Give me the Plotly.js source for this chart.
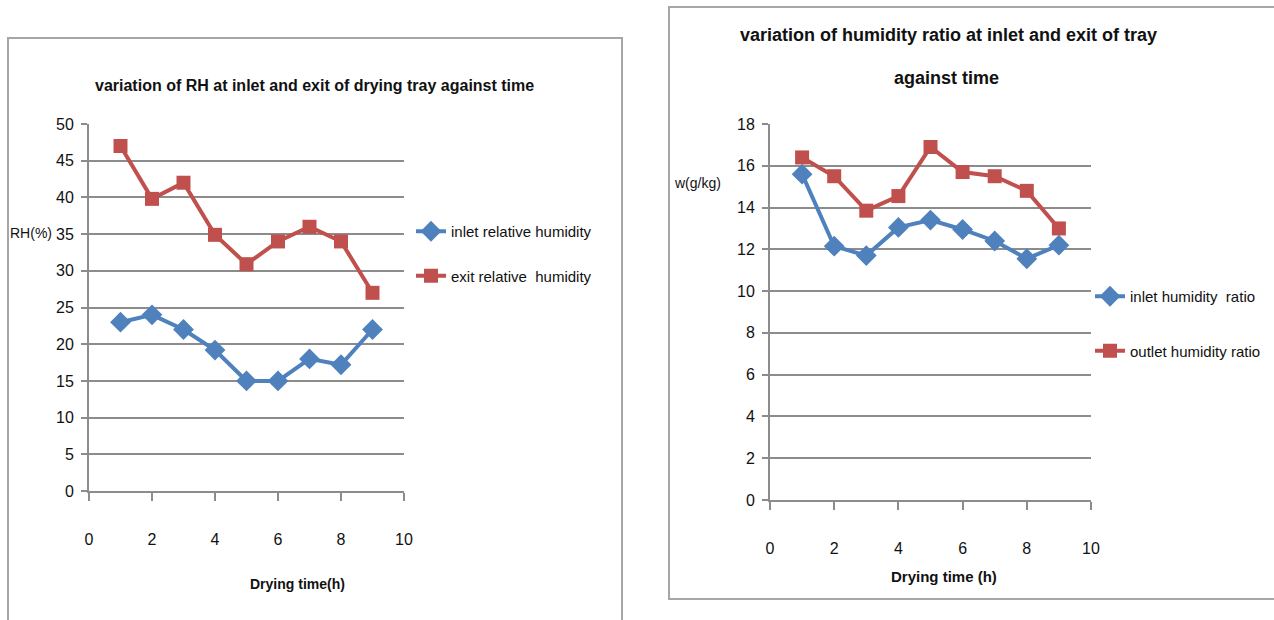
<!DOCTYPE html>
<html>
<head>
<meta charset="utf-8">
<script src="https://cdn.plot.ly/plotly-3.0.1.min.js"></script>
<style>
  html, body { margin: 0; padding: 0; background: #ffffff; overflow: hidden; }
  #chart { width: 1274px; height: 620px; }
</style>
</head>
<body>
<div id="chart"></div>
<script>
// Drying time (h)
const hours = [1, 2, 3, 4, 5, 6, 7, 8, 9];

// Relative humidity (%) at the inlet and exit of the drying tray
const inletRH = [23, 24, 22, 19.2, 15, 15, 18, 17.2, 22];
const exitRH  = [47, 39.8, 42, 34.9, 30.9, 34, 36, 34, 27];

// Humidity ratio w (g/kg) at the inlet and outlet of the tray
const inletW  = [15.6, 12.15, 11.7, 13.05, 13.4, 12.95, 12.4, 11.55, 12.2];
const outletW = [16.4, 15.5, 13.85, 14.55, 16.9, 15.7, 15.5, 14.8, 13.0];

// Tick values
const xTicks  = [0, 2, 4, 6, 8, 10];
const rhTicks = [0, 5, 10, 15, 20, 25, 30, 35, 40, 45, 50];
const wTicks  = [0, 2, 4, 6, 8, 10, 12, 14, 16, 18];

const W = 1274, H = 620;
const px = v => v / W;          // pixel x -> paper x
const py = v => (H - v) / H;    // pixel y -> paper y

const BLUE = '#4F81BD';
const RED = '#C0504D';
const GRID = '#8c8c8c';
const FONT = 'Liberation Sans, Arial, sans-serif';

function lineTrace(x, y, name, color, symbol, size, xa, ya, legend) {
  return {
    x: x, y: y, name: name, type: 'scatter', mode: 'lines+markers',
    xaxis: xa, yaxis: ya, legend: legend, legendgroup: name,
    line: { color: color, width: 4 },
    marker: { color: color, symbol: symbol, size: size }
  };
}

const traces = [
  lineTrace(hours, inletRH, 'inlet relative humidity', BLUE, 'diamond', 16, 'x', 'y', 'legend'),
  lineTrace(hours, exitRH, 'exit relative  humidity', RED, 'square', 14, 'x', 'y', 'legend'),
  lineTrace(hours, inletW, 'inlet humidity  ratio', BLUE, 'diamond', 16, 'x2', 'y2', 'legend2'),
  lineTrace(hours, outletW, 'outlet humidity ratio', RED, 'square', 14, 'x2', 'y2', 'legend2')
];

function xAxis(domain, anchor) {
  return {
    domain: domain, anchor: anchor, range: [0, 10],
    tickvals: xTicks, ticks: 'outside', ticklen: 8, tickwidth: 2, tickcolor: GRID,
    showline: true, linecolor: GRID, linewidth: 2,
    showgrid: false, zeroline: false,
    ticklabelstandoff: 25,
    tickfont: { family: FONT, size: 16, color: '#111111' },
    fixedrange: true
  };
}

function yAxis(domain, anchor, range, ticks) {
  return {
    domain: domain, anchor: anchor, range: range,
    tickvals: ticks, ticks: 'outside', ticklen: 6, tickwidth: 2, tickcolor: GRID,
    showline: true, linecolor: GRID, linewidth: 2,
    showgrid: true, gridcolor: GRID, gridwidth: 2, zeroline: false,
    ticklabelstandoff: 4,
    tickfont: { family: FONT, size: 16, color: '#111111' },
    fixedrange: true
  };
}

function label(text, x, y, size, bold) {
  return {
    xref: 'paper', yref: 'paper', x: px(x), y: py(y),
    xanchor: 'center', yanchor: 'middle', showarrow: false,
    text: bold ? '<b>' + text + '</b>' : text,
    font: { family: FONT, size: size, color: '#111111' }
  };
}

function frame(x0, y0, x1, y1) {
  return {
    type: 'rect', xref: 'paper', yref: 'paper', layer: 'below',
    x0: px(x0), x1: px(x1), y0: py(y1), y1: py(y0),
    line: { color: '#a6a6a6', width: 2 }, fillcolor: 'rgba(0,0,0,0)'
  };
}

function legendBox(x, y, gap) {
  return {
    x: px(x), y: py(y), xanchor: 'left', yanchor: 'top',
    xref: 'container', yref: 'container',
    bgcolor: 'rgba(0,0,0,0)', borderwidth: 0,
    traceorder: 'grouped', tracegroupgap: gap,
    font: { family: FONT, size: 15, color: '#111111' },
    itemclick: false, itemdoubleclick: false
  };
}

const layout = {
  width: W, height: H,
  margin: { l: 0, r: 0, t: 0, b: 0, autoexpand: false },
  paper_bgcolor: '#ffffff', plot_bgcolor: 'rgba(0,0,0,0)',
  showlegend: true,
  xaxis: xAxis([px(89), px(404)], 'y'),
  yaxis: yAxis([py(491), py(124)], 'x', [0, 50], rhTicks),
  xaxis2: xAxis([px(770), px(1091)], 'y2'),
  yaxis2: yAxis([py(500), py(124)], 'x2', [0, 18], wTicks),
  legend: legendBox(411, 215, 22),
  legend2: legendBox(1090, 280, 32),
  shapes: [
    frame(8, 38, 622, 640),
    frame(669, 7, 1290, 599)
  ],
  annotations: [
    label('variation of RH at inlet and exit of drying tray against time', 314, 85, 16, true),
    label('variation of humidity ratio at inlet and exit of tray', 948, 35, 18, true),
    label('against time', 946, 78, 18, true),
    label('RH(%)', 31, 233, 14, false),
    label('w(g/kg)', 697, 183, 14, false),
    label('Drying time(h)', 297, 584, 14, true),
    label('Drying time (h)', 944, 576, 15, true)
  ]
};

Plotly.newPlot('chart', traces, layout, { displayModeBar: false });
</script>
</body>
</html>
